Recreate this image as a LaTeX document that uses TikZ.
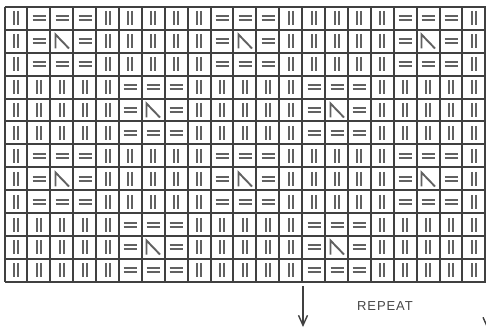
\documentclass[tikz,border=0pt]{standalone}
\usepackage{fontspec}
\setmainfont{Liberation Sans}
\usetikzlibrary{arrows.meta}
\begin{document}
\begin{tikzpicture}[x=1pt,y=-1pt,
  gridline/.style={draw=black!75, line width=1.8pt},
  sym/.style={draw=black!62, line width=1.9pt},
  vv/.pic={\draw[sym] (-2,-7) -- (-2,7) (2,-7) -- (2,7);},
  hh/.pic={\draw[sym] (-6.5,-2) -- (6.5,-2) (-6.5,2) -- (6.5,2);},
  dec/.pic={\draw[sym,line join=miter] (-6.5,7.5) -- (-6.5,-6.5) -- (7,7.5);},
  reparrow/.style={draw=black!75, line width=1.4pt, -{Straight Barb[length=10pt,width=9pt,line width=1.4pt]}},
  label/.style={text=black!72, font=\fontsize{13pt}{15pt}\selectfont\addfontfeature{LetterSpace=7}}
]
\useasboundingbox (0,0) rectangle (486,328);
\clip (0,0) rectangle (486,328);
\fill[white] (0,0) rectangle (486,328);
% symbols
\foreach \row [count=\r] in {
  {0,1,1,1,0,0,0,0,0,1,1,1,0,0,0,0,0,1,1,1,0},
  {0,1,2,1,0,0,0,0,0,1,2,1,0,0,0,0,0,1,2,1,0},
  {0,1,1,1,0,0,0,0,0,1,1,1,0,0,0,0,0,1,1,1,0},
  {0,0,0,0,0,1,1,1,0,0,0,0,0,1,1,1,0,0,0,0,0},
  {0,0,0,0,0,1,2,1,0,0,0,0,0,1,2,1,0,0,0,0,0},
  {0,0,0,0,0,1,1,1,0,0,0,0,0,1,1,1,0,0,0,0,0},
  {0,1,1,1,0,0,0,0,0,1,1,1,0,0,0,0,0,1,1,1,0},
  {0,1,2,1,0,0,0,0,0,1,2,1,0,0,0,0,0,1,2,1,0},
  {0,1,1,1,0,0,0,0,0,1,1,1,0,0,0,0,0,1,1,1,0},
  {0,0,0,0,0,1,1,1,0,0,0,0,0,1,1,1,0,0,0,0,0},
  {0,0,0,0,0,1,2,1,0,0,0,0,0,1,2,1,0,0,0,0,0},
  {0,0,0,0,0,1,1,1,0,0,0,0,0,1,1,1,0,0,0,0,0}} {
  \foreach \k [count=\c] in \row {
    \pgfmathsetmacro\cx{round(4.5+(\c-0.5)*22.9)}
    \pgfmathsetmacro\cy{round(7+(\r-0.5)*22.9)}
    \ifcase\k \pic at (\cx,\cy) {vv};
    \or \pic at (\cx,\cy) {hh};
    \or \pic at (\cx,\cy) {dec};
    \fi
  }
}
% grid lines
\foreach \i in {0,...,21} {
  \pgfmathsetmacro\gx{round(4.5+\i*22.9)}
  \draw[gridline] (\gx,7) -- (\gx,282);
}
\foreach \j in {0,...,12} {
  \pgfmathsetmacro\gy{round(7+\j*22.9)}
  \draw[gridline] (4.5,\gy) -- (485.5,\gy);
}
% repeat arrows and label
\coordinate (a1s) at (303,286);
\coordinate (a1e) at (303,327);
\coordinate (a2s) at (487.5,290);
\coordinate (a2e) at (487.5,329);
\draw[reparrow] (a1s) -- (a1e);
\draw[reparrow] (a2s) -- (a2e);
\node[label] (rep) at (385,306) {REPEAT};
\end{tikzpicture}
\end{document}
